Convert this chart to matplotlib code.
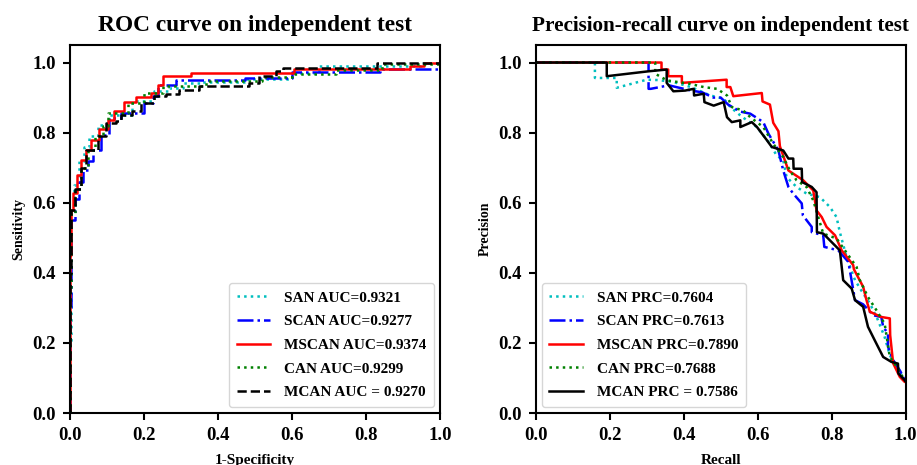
import matplotlib
matplotlib.use("Agg")
import matplotlib.pyplot as plt

plt.rcParams['font.family'] = ['Liberation Serif', 'DejaVu Serif']
plt.rcParams['font.weight'] = 'bold'

# ---------------- ROC data (step points) ----------------
san_fpr = [0, 0, 0.004, 0.012, 0.025, 0.04, 0.053, 0.076, 0.107, 0.17, 0.229, 0.269, 0.306, 0.358, 0.475, 0.601, 0.673, 0.95, 1.0]
san_tpr = [0, 0.2, 0.58, 0.65, 0.72, 0.76, 0.79, 0.823, 0.851, 0.889, 0.918, 0.928, 0.942, 0.945, 0.953, 0.97, 0.991, 1.0, 1.0]

scan_fpr = [0, 0, 0.005, 0.015, 0.025, 0.036, 0.05, 0.063, 0.085, 0.107, 0.139, 0.202, 0.225, 0.238, 0.287, 0.475, 0.601, 0.838, 0.996, 1.0]
scan_tpr = [0, 0.3, 0.55, 0.61, 0.66, 0.694, 0.72, 0.751, 0.794, 0.842, 0.856, 0.885, 0.904, 0.937, 0.951, 0.956, 0.973, 0.982, 0.991, 0.991]

mscan_fpr = [0, 0, 0.004, 0.0086, 0.02, 0.031, 0.045, 0.058, 0.08, 0.103, 0.121, 0.148, 0.18, 0.22, 0.238, 0.252, 0.328, 0.606, 0.919, 0.956, 1.0]
mscan_tpr = [0, 0.45, 0.58, 0.628, 0.68, 0.723, 0.75, 0.78, 0.809, 0.837, 0.861, 0.887, 0.902, 0.913, 0.937, 0.961, 0.969, 0.982, 0.991, 1.0, 1.0]

can_fpr = [0, 0, 0.005, 0.015, 0.03, 0.05, 0.07, 0.09, 0.103, 0.157, 0.202, 0.252, 0.368, 0.52, 0.601, 0.72, 0.843, 1.0]
can_tpr = [0, 0.35, 0.57, 0.64, 0.7, 0.75, 0.79, 0.82, 0.856, 0.885, 0.913, 0.932, 0.947, 0.958, 0.967, 0.98, 0.996, 1.0]

mcan_fpr = [0, 0, 0.005, 0.015, 0.03, 0.045, 0.076, 0.098, 0.125, 0.139, 0.17, 0.193, 0.229, 0.26, 0.296, 0.35, 0.485, 0.512, 0.557, 0.575, 0.83, 1.0]
mcan_tpr = [0, 0.4, 0.58, 0.64, 0.7, 0.751, 0.79, 0.828, 0.832, 0.851, 0.861, 0.885, 0.904, 0.909, 0.923, 0.932, 0.942, 0.961, 0.975, 0.985, 1.0, 1.0]

roc_labels = ["SAN AUC=0.9321", "SCAN AUC=0.9277", "MSCAN AUC=0.9374", "CAN AUC=0.9299", "MCAN AUC = 0.9270"]

# ---------------- PR data ----------------
san_rec = [0, 0.16, 0.16, 0.219, 0.219, 0.3, 0.33, 0.37, 0.42, 0.472, 0.508, 0.526, 0.553, 0.571, 0.598, 0.633, 0.651, 0.669, 0.678, 0.705, 0.732, 0.768, 0.795, 0.813, 0.822, 0.84, 0.863, 0.885, 0.903, 0.925, 0.943, 0.957, 0.975, 0.997, 1.0]
san_pre = [1, 1, 0.956, 0.956, 0.928, 0.951, 0.95, 0.945, 0.93, 0.906, 0.897, 0.873, 0.849, 0.835, 0.816, 0.768, 0.735, 0.721, 0.673, 0.645, 0.626, 0.616, 0.588, 0.559, 0.516, 0.445, 0.379, 0.341, 0.313, 0.265, 0.217, 0.165, 0.132, 0.094, 0.09]

scan_rec = [0, 0.305, 0.305, 0.311, 0.36, 0.42, 0.45, 0.48, 0.5, 0.52, 0.553, 0.58, 0.615, 0.629, 0.656, 0.669, 0.683, 0.696, 0.719, 0.722, 0.746, 0.746, 0.777, 0.78, 0.818, 0.845, 0.863, 0.885, 0.912, 0.934, 0.939, 0.952, 0.952, 0.966, 0.985, 0.997, 1.0]
scan_pre = [1, 1, 0.925, 0.925, 0.935, 0.92, 0.915, 0.9, 0.9, 0.88, 0.86, 0.854, 0.83, 0.797, 0.749, 0.692, 0.645, 0.626, 0.598, 0.564, 0.531, 0.516, 0.507, 0.474, 0.464, 0.431, 0.322, 0.31, 0.279, 0.274, 0.246, 0.227, 0.189, 0.151, 0.12, 0.094, 0.09]

mscan_rec = [0, 0.34, 0.34, 0.358, 0.358, 0.395, 0.395, 0.516, 0.516, 0.526, 0.534, 0.611, 0.613, 0.633, 0.642, 0.656, 0.66, 0.683, 0.723, 0.75, 0.759, 0.773, 0.786, 0.809, 0.827, 0.858, 0.86, 0.885, 0.894, 0.903, 0.934, 0.957, 0.958, 0.966, 0.984, 0.997, 1.0]
mscan_pre = [1, 1, 0.98, 0.98, 0.961, 0.961, 0.942, 0.951, 0.93, 0.93, 0.904, 0.913, 0.889, 0.88, 0.828, 0.804, 0.761, 0.692, 0.664, 0.635, 0.578, 0.559, 0.531, 0.507, 0.464, 0.422, 0.41, 0.36, 0.322, 0.289, 0.274, 0.27, 0.222, 0.142, 0.103, 0.089, 0.088]

can_rec = [0, 0.323, 0.323, 0.355, 0.418, 0.454, 0.49, 0.517, 0.53, 0.561, 0.58, 0.615, 0.642, 0.669, 0.687, 0.705, 0.732, 0.75, 0.777, 0.813, 0.845, 0.867, 0.876, 0.898, 0.921, 0.943, 0.957, 0.97, 0.997, 1.0]
can_pre = [1, 1, 0.968, 0.949, 0.939, 0.93, 0.925, 0.906, 0.873, 0.863, 0.844, 0.816, 0.768, 0.73, 0.692, 0.664, 0.645, 0.607, 0.512, 0.498, 0.45, 0.417, 0.379, 0.331, 0.293, 0.255, 0.16, 0.141, 0.094, 0.09]

mcan_rec = [0, 0.192, 0.192, 0.305, 0.354, 0.354, 0.372, 0.404, 0.427, 0.428, 0.454, 0.456, 0.481, 0.508, 0.517, 0.53, 0.553, 0.553, 0.584, 0.598, 0.625, 0.638, 0.669, 0.683, 0.696, 0.697, 0.719, 0.72, 0.746, 0.759, 0.76, 0.777, 0.822, 0.831, 0.854, 0.863, 0.885, 0.898, 0.916, 0.939, 0.961, 0.979, 0.98, 0.997, 1.0]
mcan_pre = [1, 1, 0.961, 0.975, 0.98, 0.942, 0.918, 0.92, 0.925, 0.906, 0.911, 0.887, 0.877, 0.887, 0.844, 0.83, 0.835, 0.816, 0.83, 0.816, 0.778, 0.759, 0.749, 0.726, 0.726, 0.697, 0.697, 0.659, 0.645, 0.63, 0.516, 0.512, 0.464, 0.379, 0.355, 0.322, 0.303, 0.246, 0.208, 0.16, 0.146, 0.141, 0.113, 0.094, 0.09]

pr_labels = ["SAN PRC=0.7604", "SCAN PRC=0.7613", "MSCAN PRC=0.7890", "CAN PRC=0.7688", "MCAN PRC = 0.7586"]

ticks = [0.0, 0.2, 0.4, 0.6, 0.8, 1.0]
tick_labels = ["0.0", "0.2", "0.4", "0.6", "0.8", "1.0"]

fig = plt.figure(figsize=(9.17, 4.65), dpi=100)
ax1 = fig.add_axes([0.0758, 0.1118, 0.404, 0.7914])
ax2 = fig.add_axes([0.5842, 0.1118, 0.4035, 0.7914])

lw = 1.8
ax1.plot(san_fpr, san_tpr, color='c', ls=':', lw=lw, drawstyle='steps-post', label=roc_labels[0])
ax1.plot(scan_fpr, scan_tpr, color='b', ls='-.', lw=lw, drawstyle='steps-post', label=roc_labels[1])
ax1.plot(mscan_fpr, mscan_tpr, color='r', ls='-', lw=lw, drawstyle='steps-post', label=roc_labels[2])
ax1.plot(can_fpr, can_tpr, color='g', ls=':', lw=lw, drawstyle='steps-post', label=roc_labels[3])
ax1.plot(mcan_fpr, mcan_tpr, color='k', ls='--', lw=lw, drawstyle='steps-post', label=roc_labels[4])

ax2.plot(san_rec, san_pre, color='c', ls=':', lw=lw, label=pr_labels[0])
ax2.plot(scan_rec, scan_pre, color='b', ls='-.', lw=lw, label=pr_labels[1])
ax2.plot(mscan_rec, mscan_pre, color='r', ls='-', lw=lw, label=pr_labels[2])
ax2.plot(can_rec, can_pre, color='g', ls=':', lw=lw, label=pr_labels[3])
ax2.plot(mcan_rec, mcan_pre, color='k', ls='-', lw=lw, label=pr_labels[4])

specs = [(ax1, "ROC curve on independent test", 16.8, "1-Specificity", "Sensitivity", 'lower right'),
         (ax2, "Precision-recall curve on independent test", 15.2, "Recall", "Precision", 'lower left')]
for ax, title, tsize, xl, yl, loc in specs:
    ax.set_xlim(0, 1)
    ax.set_ylim(0, 1.05)
    ax.set_xticks(ticks)
    ax.set_xticklabels(tick_labels, fontsize=13.5, fontweight='bold')
    ax.set_yticks(ticks)
    ax.set_yticklabels(tick_labels, fontsize=13.5, fontweight='bold')
    ax.tick_params(direction='out', length=5, width=1.5, pad=5)
    for s in ax.spines.values():
        s.set_linewidth(1.5)
    ax.set_title(title, fontsize=tsize, fontweight='bold', pad=10)
    ax.set_xlabel(xl, fontsize=11, fontweight='bold', labelpad=7)
    ax.set_ylabel(yl, fontsize=10, fontweight='bold', labelpad=5)
    ax.legend(loc=loc, prop={'family': 'Liberation Serif', 'weight': 'bold', 'size': 11},
              borderpad=0.5, labelspacing=0.65, handlelength=2.2, handletextpad=0.9,
              borderaxespad=0.4)

fig.savefig("out.png", dpi=100)
